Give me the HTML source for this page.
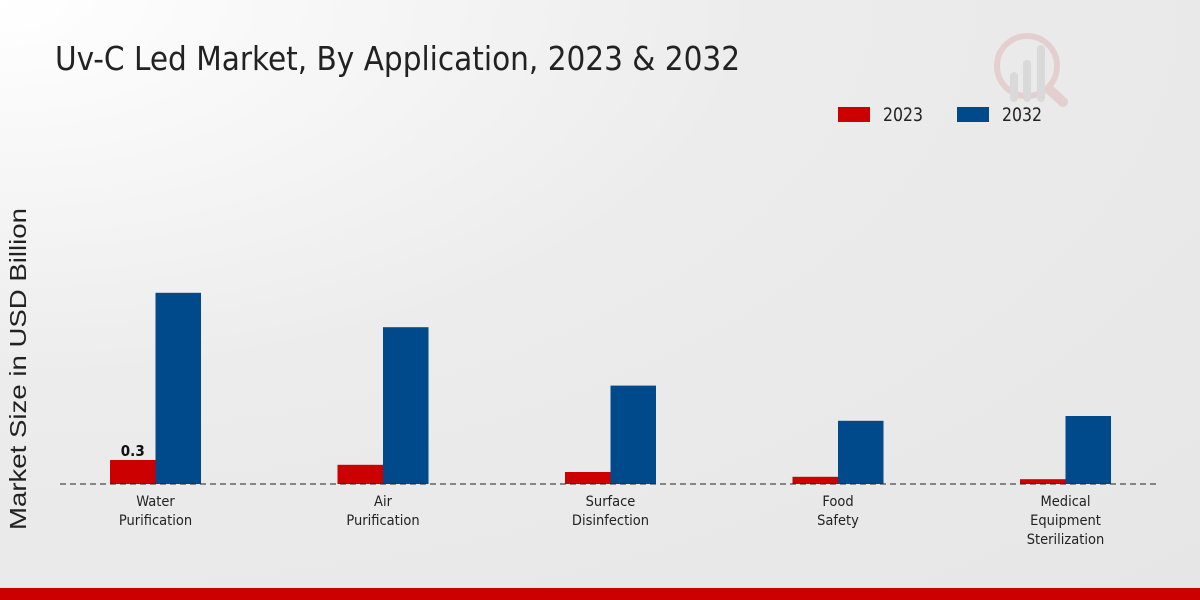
<!DOCTYPE html>
<html><head><meta charset="utf-8"><style>
html,body{margin:0;padding:0}
body{width:1200px;height:600px;overflow:hidden;background:radial-gradient(ellipse at 0% 0%,#ffffff 0%,#ececec 45%,#e6e6e6 100%);font-family:"Liberation Sans Narrow","DejaVu Sans Condensed","Liberation Sans",sans-serif;position:relative}
</style></head><body>
<svg width="1200" height="600" style="position:absolute;left:0;top:0">
<text x="55" y="70" font-size="33" textLength="685" lengthAdjust="spacingAndGlyphs" fill="#222" style="font-family:'Liberation Sans Narrow','DejaVu Sans Condensed',sans-serif">Uv-C Led Market, By Application, 2023 &amp; 2032</text>
<g opacity="0.35">
<circle cx="1027" cy="66" r="30" fill="none" stroke="#d9a0a0" stroke-width="6"/>
<rect x="1010" y="72" width="8" height="30" rx="4" fill="#bbb"/>
<rect x="1023" y="60" width="8" height="42" rx="4" fill="#bbb"/>
<rect x="1037" y="45" width="8" height="57" rx="4" fill="#bbb"/>
<line x1="1050" y1="90" x2="1063" y2="102" stroke="#d9a0a0" stroke-width="10" stroke-linecap="round"/>
</g>
<g>
<rect x="838" y="107" width="32" height="15" fill="#cc0000"/>
<text x="883" y="121" font-size="19" textLength="40" lengthAdjust="spacingAndGlyphs" fill="#222">2023</text>
<rect x="957" y="107" width="32" height="15" fill="#004a8c"/>
<text x="1002" y="121" font-size="19" textLength="40" lengthAdjust="spacingAndGlyphs" fill="#222">2032</text>
</g>
<text transform="translate(26,369) rotate(-90)" text-anchor="middle" font-size="23" textLength="322" lengthAdjust="spacingAndGlyphs" fill="#222" style="font-family:'Liberation Sans','DejaVu Sans',sans-serif">Market Size in USD Billion</text>
<g id="bars"></g>
<line x1="60" y1="484" x2="1160" y2="484" stroke="#222" stroke-width="1" stroke-dasharray="6,4"/>
<g id="labels"></g>
<rect x="0" y="588" width="1200" height="12" fill="#cc0000"/>
</svg>
<script>
const categories=[["Water","Purification"],["Air","Purification"],["Surface","Disinfection"],["Food","Safety"],["Medical","Equipment","Sterilization"]];
const values2023=[0.3,0.24,0.15,0.09,0.06];
const values2032=[2.39,1.96,1.23,0.79,0.85];
const NS="http://www.w3.org/2000/svg";
const baseY=484,scale=80,x0=155.5,step=227.5,bw=45.5;
function yScale(v){return baseY-v*scale;}
function xCenter(i){return x0+i*step;}
const bars=document.getElementById('bars'),labels=document.getElementById('labels');
function mk(t,a){const e=document.createElementNS(NS,t);for(const k in a)e.setAttribute(k,a[k]);return e;}
categories.forEach((c,i)=>{
 const cx=xCenter(i);
 const r1=mk('rect',{x:cx-bw,y:yScale(values2023[i]),width:bw,height:baseY-yScale(values2023[i]),fill:'#cc0000'});
 
 
 bars.appendChild(r1);
 const r2=mk('rect',{x:cx,y:yScale(values2032[i]),width:bw,height:baseY-yScale(values2032[i]),fill:'#004a8c'});
 
 
 bars.appendChild(r2);
 const t=mk('text',{x:cx,y:506,'text-anchor':'middle','font-size':'14.5',fill:'#222'});
 
 
 c.forEach((l,j)=>{const s=mk('tspan',{x:cx,dy:j?19:0});s.textContent=l;t.appendChild(s);});
 labels.appendChild(t);
});
const vl=mk('text',{x:xCenter(0)-bw/2,y:yScale(values2023[0])-4,'text-anchor':'middle','font-size':'15','font-weight':'bold',fill:'#111'});


vl.textContent=values2023[0];
labels.appendChild(vl);
</script>
</body></html>
